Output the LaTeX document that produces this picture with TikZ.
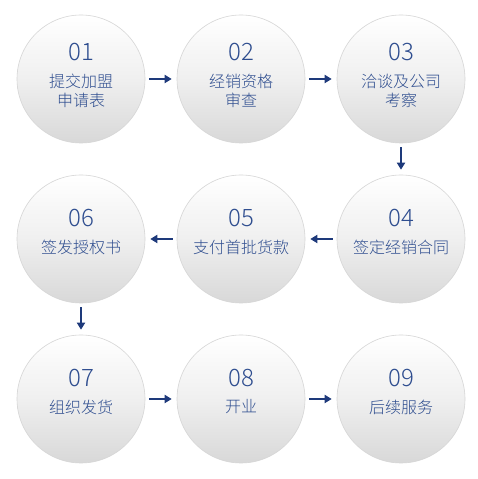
\documentclass[tikz,border=0pt]{standalone}
\usepackage{fontspec}
\setmainfont{Noto Sans CJK SC}[UprightFont={* Light}]
\usetikzlibrary{arrows.meta}
\definecolor{txtblue}{HTML}{2E4D8F}
\definecolor{arrblue}{HTML}{1E3A7B}
\definecolor{circbot}{HTML}{D8D8D8}
\definecolor{circedge}{HTML}{D6D6D6}
\begin{document}
\begin{tikzpicture}[x=1pt,y=1pt,
  stepcirc/.style={circle, minimum size=128pt, inner sep=0pt, draw=circedge, line width=0.6pt,
    top color=white, bottom color=circbot, middle color=white!60!circbot, shading angle=0},
  numtxt/.style={text=txtblue, font=\fontsize{24}{24}\selectfont},
  labtxt/.style={text=txtblue, font=\fontsize{16}{19}\selectfont, align=center},
  flow/.style={draw=arrblue, line width=2.4pt, -{Triangle[length=7pt,width=8pt]}, shorten >=5pt, shorten <=4pt}
]
\useasboundingbox (0,0) rectangle (478,479);
\fill[white] (0,0) rectangle (478,479);
% row 1
\node[stepcirc] (c1) at (81,400) {};
\node[stepcirc] (c2) at (241,400) {};
\node[stepcirc] (c3) at (401,400) {};
% row 2
\node[stepcirc] (c4) at (401,240) {};
\node[stepcirc] (c5) at (241,240) {};
\node[stepcirc] (c6) at (81,240) {};
% row 3
\node[stepcirc] (c7) at (81,80) {};
\node[stepcirc] (c8) at (241,80) {};
\node[stepcirc] (c9) at (401,80) {};
% texts
\node[numtxt] (n1) at (81,427) {01};
\node[labtxt] (l1) at (81,388) {提交加盟\\申请表};
\node[numtxt] (n2) at (241,427) {02};
\node[labtxt] (l2) at (241,388) {经销资格\\审查};
\node[numtxt] (n3) at (401,427) {03};
\node[labtxt] (l3) at (401,388) {洽谈及公司\\考察};
\node[numtxt] (n4) at (401,261) {04};
\node[labtxt] (l4) at (401,232) {签定经销合同};
\node[numtxt] (n5) at (241,261) {05};
\node[labtxt] (l5) at (241,232) {支付首批货款};
\node[numtxt] (n6) at (81,261) {06};
\node[labtxt] (l6) at (81,232) {签发授权书};
\node[numtxt] (n7) at (81,101) {07};
\node[labtxt] (l7) at (81,72) {组织发货};
\node[numtxt] (n8) at (241,101) {08};
\node[labtxt] (l8) at (241,72) {开业};
\node[numtxt] (n9) at (401,101) {09};
\node[labtxt] (l9) at (401,72) {后续服务};
% arrows
\draw[flow] (c1) -- (c2);
\draw[flow] (c2) -- (c3);
\draw[flow] (c3) -- (c4);
\draw[flow] (c4) -- (c5);
\draw[flow] (c5) -- (c6);
\draw[flow] (c6) -- (c7);
\draw[flow] (c7) -- (c8);
\draw[flow] (c8) -- (c9);
\end{tikzpicture}
\end{document}
